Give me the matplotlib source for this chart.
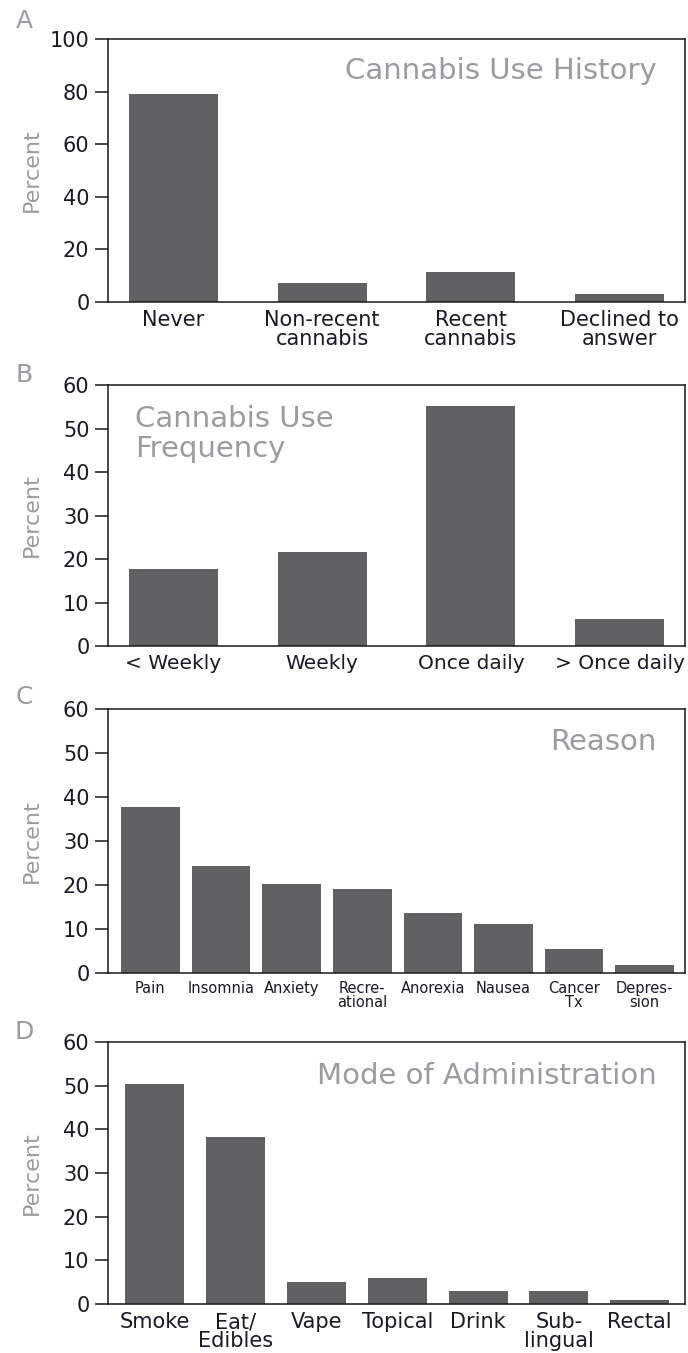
import matplotlib
matplotlib.use("Agg")
import matplotlib.pyplot as plt

plt.rcParams['font.family'] = ['DejaVu Sans']

# Panel A
hist_labels = ["Never", "Non-recent\ncannabis", "Recent\ncannabis", "Declined to\nanswer"]
hist_values = [79.1, 7.2, 11.3, 3.2]
# Panel B
freq_labels = ["< Weekly", "Weekly", "Once daily", "> Once daily"]
freq_values = [17.8, 21.6, 55.3, 6.3]
# Panel C
reason_labels = ["Pain", "Insomnia", "Anxiety", "Recre-\national", "Anorexia", "Nausea", "Cancer\nTx", "Depres-\nsion"]
reason_values = [37.7, 24.2, 20.2, 19.0, 13.6, 11.1, 5.5, 1.8]
# Panel D
mode_labels = ["Smoke", "Eat/\nEdibles", "Vape", "Topical", "Drink", "Sub-\nlingual", "Rectal"]
mode_values = [50.4, 38.2, 5.0, 5.9, 3.0, 3.0, 0.9]

BAR = "#616163"
GRAY = "#9b9ba0"
AX = "#1a1a1a"
TICKC = "#1a1a2a"

fig = plt.figure(figsize=(6.88, 13.53), dpi=100)

left = 108 / 688
width = 577 / 688

panels = [
    dict(letter="A", labels=hist_labels, values=hist_values, rect=[left, 0.7768, width, 0.1944],
         ylim=100, yticks=[0, 20, 40, 60, 80, 100], xlim=(-0.44, 3.44), bw=0.6, xfs=15,
         title="Cannabis Use History", tx=0.951, ty=0.878, tha="right", letter_y=21),
    dict(letter="B", labels=freq_labels, values=freq_values, rect=[left, 0.5225, width, 0.1929],
         ylim=60, yticks=[0, 10, 20, 30, 40, 50, 60], xlim=(-0.44, 3.44), bw=0.6, xfs=14.5,
         title="Cannabis Use\nFrequency", tx=0.047, ty=0.812, tha="left", letter_y=375),
    dict(letter="C", labels=reason_labels, values=reason_values, rect=[left, 0.2809, width, 0.1951],
         ylim=60, yticks=[0, 10, 20, 30, 40, 50, 60], xlim=(-0.6, 7.57), bw=0.83, xfs=10.5,
         title="Reason", tx=0.951, ty=0.875, tha="right", letter_y=697),
    dict(letter="D", labels=mode_labels, values=mode_values, rect=[left, 0.0362, width, 0.1936],
         ylim=60, yticks=[0, 10, 20, 30, 40, 50, 60], xlim=(-0.58, 6.56), bw=0.73, xfs=15,
         title="Mode of Administration", tx=0.951, ty=0.87, tha="right", letter_y=1032),
]

for p in panels:
    ax = fig.add_axes(p["rect"])
    x = list(range(len(p["values"])))
    ax.bar(x, p["values"], width=p["bw"], color=BAR, zorder=2)
    ax.set_xlim(*p["xlim"])
    ax.set_ylim(0, p["ylim"])
    ax.set_yticks(p["yticks"])
    ax.set_xticks(x)
    ax.set_xticklabels(p["labels"], fontsize=p["xfs"], color=TICKC, linespacing=0.92)
    ax.tick_params(axis="x", length=0, pad=6)
    ax.tick_params(axis="y", length=9.4, width=1.1, pad=4, labelsize=15, colors=AX, labelcolor=TICKC)
    for s in ax.spines.values():
        s.set_linewidth(1.1)
        s.set_color(AX)
    ax.set_ylabel("Percent", fontsize=16, color=GRAY)
    ax.yaxis.set_label_coords(-(108 - 42) / 577, 0.5)
    ax.text(p["tx"], p["ty"], p["title"], transform=ax.transAxes, ha=p["tha"], va="center",
            fontsize=21, color=GRAY, linespacing=1.1)
    fig.text(24 / 688, 1 - p["letter_y"] / 1353, p["letter"], fontsize=18, color=GRAY,
             ha="center", va="center")

fig.savefig("out.png", dpi=100)
